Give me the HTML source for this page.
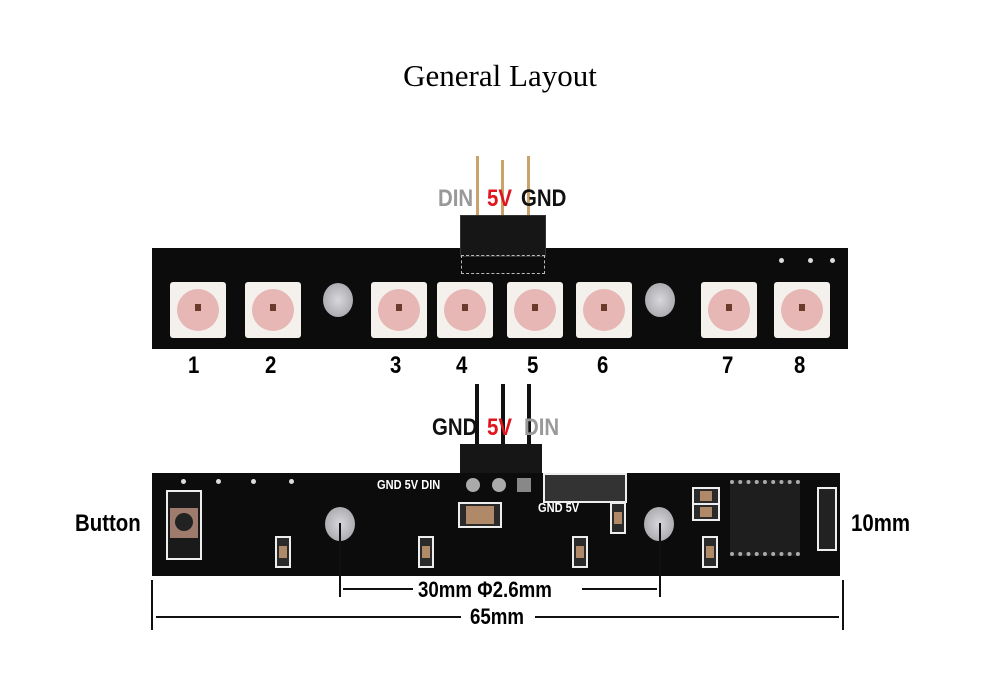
<!DOCTYPE html>
<html><head><meta charset="utf-8"><style>
body{margin:0;background:#fff;width:1000px;height:684px;overflow:hidden;position:relative;font-family:"Liberation Sans Narrow","Liberation Sans",sans-serif}
.a{position:absolute}
.t{position:absolute;font-weight:bold;font-size:24px;white-space:nowrap;line-height:1;transform:scaleX(0.85);transform-origin:left top}
.led{position:absolute;width:56px;height:56px;background:#f4f1ec;border-radius:3px}
.led:after{content:"";position:absolute;left:7px;top:7px;width:42px;height:42px;border-radius:50%;background:#e6b7b4}
.led:before{content:"";position:absolute;left:25px;top:22px;width:6px;height:7px;background:#6a3a2a;z-index:2}
.hole{position:absolute;width:30px;height:34px;border-radius:50%;background:radial-gradient(#d8d8dc,#9a9aa0);}
.pin{position:absolute;width:3px;background:#c9a36a}
.pinb{position:absolute;width:4px;background:#111}
.dot{position:absolute;width:5px;height:5px;border-radius:50%;background:#ddd}
.smd{position:absolute;border:2px solid #eee;background:#2a2a2a}
.smd i{position:absolute;left:2px;right:2px;top:30%;bottom:30%;background:#b08a68}
</style></head><body>
<div class="a" style="left:0;width:1000px;top:58px;text-align:center;font-family:'Liberation Serif',serif;font-size:31px">General Layout</div>

<!-- top board -->
<div class="pin" style="left:476px;top:156px;height:62px"></div>
<div class="pin" style="left:501px;top:160px;height:58px"></div>
<div class="pin" style="left:527px;top:156px;height:62px"></div>
<div class="t" style="left:438px;top:187px;color:#999">DIN</div>
<div class="t" style="left:487px;top:187px;color:#e0141c">5V</div>
<div class="t" style="left:521px;top:187px;color:#111">GND</div>
<div class="a" style="left:152px;top:248px;width:696px;height:101px;background:#0c0c0c"></div>
<div class="a" style="left:460px;top:215px;width:84px;height:40px;background:#161616;border:1px solid #333"></div>
<div class="a" style="left:461px;top:255px;width:82px;height:17px;border:1px dashed #bbb"></div>
<div class="led" style="left:170px;top:282px"></div>
<div class="led" style="left:245px;top:282px"></div>
<div class="led" style="left:371px;top:282px"></div>
<div class="led" style="left:437px;top:282px"></div>
<div class="led" style="left:507px;top:282px"></div>
<div class="led" style="left:576px;top:282px"></div>
<div class="led" style="left:701px;top:282px"></div>
<div class="led" style="left:774px;top:282px"></div>
<div class="hole" style="left:323px;top:283px"></div>
<div class="hole" style="left:645px;top:283px"></div>
<div class="dot" style="left:779px;top:258px"></div><div class="dot" style="left:808px;top:258px"></div><div class="dot" style="left:830px;top:258px"></div>
<div class="t" style="left:188px;top:354px">1</div>
<div class="t" style="left:265px;top:354px">2</div>
<div class="t" style="left:390px;top:354px">3</div>
<div class="t" style="left:456px;top:354px">4</div>
<div class="t" style="left:527px;top:354px">5</div>
<div class="t" style="left:597px;top:354px">6</div>
<div class="t" style="left:722px;top:354px">7</div>
<div class="t" style="left:794px;top:354px">8</div>

<!-- bottom board -->
<div class="pinb" style="left:475px;top:384px;height:62px"></div>
<div class="pinb" style="left:501px;top:384px;height:62px"></div>
<div class="pinb" style="left:527px;top:384px;height:62px"></div>
<div class="t" style="left:432px;top:416px;color:#111">GND</div>
<div class="t" style="left:487px;top:416px;color:#e0141c">5V</div>
<div class="t" style="left:524px;top:416px;color:#999">DIN</div>
<div class="a" style="left:460px;top:444px;width:82px;height:29px;background:#161616"></div>
<div class="a" style="left:152px;top:473px;width:688px;height:103px;background:#0c0c0c"></div>
<div class="dot" style="left:181px;top:479px"></div><div class="dot" style="left:216px;top:479px"></div><div class="dot" style="left:251px;top:479px"></div><div class="dot" style="left:289px;top:479px"></div>
<div class="a" style="left:166px;top:490px;width:32px;height:66px;border:2px solid #eee;background:#1a1a1a"></div>
<div class="a" style="left:170px;top:508px;width:28px;height:30px;background:#9e7b6c"></div>
<div class="a" style="left:175px;top:513px;width:18px;height:18px;border-radius:50%;background:#222"></div>
<div class="hole" style="left:325px;top:507px"></div>
<div class="hole" style="left:644px;top:507px"></div>
<div class="t" style="left:377px;top:478px;font-size:13px;color:#fff">GND 5V DIN</div>
<div class="a" style="left:466px;top:478px;width:14px;height:14px;border-radius:50%;background:#aaa"></div>
<div class="a" style="left:492px;top:478px;width:14px;height:14px;border-radius:50%;background:#aaa"></div>
<div class="a" style="left:517px;top:478px;width:14px;height:14px;background:#888"></div>
<div class="a" style="left:543px;top:473px;width:80px;height:26px;border:2px solid #eee;background:#333"></div>
<div class="t" style="left:538px;top:501px;font-size:13px;color:#fff">GND 5V</div>
<div class="smd" style="left:458px;top:502px;width:40px;height:22px"><i style="left:6px;right:6px;top:2px;bottom:2px"></i></div>
<div class="smd" style="left:275px;top:536px;width:12px;height:28px"><i></i></div>
<div class="smd" style="left:418px;top:536px;width:12px;height:28px"><i></i></div>
<div class="smd" style="left:572px;top:536px;width:12px;height:28px"><i></i></div>
<div class="smd" style="left:702px;top:536px;width:12px;height:28px"><i></i></div>
<div class="smd" style="left:610px;top:502px;width:12px;height:28px"><i></i></div>
<div class="smd" style="left:692px;top:487px;width:24px;height:14px"><i style="left:6px;right:6px;top:2px;bottom:2px"></i></div>
<div class="smd" style="left:692px;top:503px;width:24px;height:14px"><i style="left:6px;right:6px;top:2px;bottom:2px"></i></div>
<div class="a" style="left:730px;top:480px;width:70px;height:68px;background:#1e1e1e;border-top:4px dotted #aaa;border-bottom:4px dotted #aaa"></div>
<div class="a" style="left:817px;top:487px;width:16px;height:60px;border:2px solid #eee;background:#222"></div>
<div class="t" style="left:75px;top:512px">Button</div>
<div class="t" style="left:851px;top:512px">10mm</div>

<!-- dimensions -->
<div class="a" style="left:339px;top:523px;width:2px;height:74px;background:#111"></div>
<div class="a" style="left:659px;top:523px;width:2px;height:74px;background:#111"></div>
<div class="a" style="left:343px;top:588px;width:70px;height:2px;background:#111"></div>
<div class="a" style="left:582px;top:588px;width:75px;height:2px;background:#111"></div>
<div class="t" style="left:418px;top:579px;font-size:22px">30mm Φ2.6mm</div>
<div class="a" style="left:151px;top:580px;width:2px;height:50px;background:#111"></div>
<div class="a" style="left:842px;top:580px;width:2px;height:50px;background:#111"></div>
<div class="a" style="left:156px;top:616px;width:305px;height:2px;background:#111"></div>
<div class="a" style="left:535px;top:616px;width:304px;height:2px;background:#111"></div>
<div class="t" style="left:470px;top:606px;font-size:22px">65mm</div>
</body></html>
